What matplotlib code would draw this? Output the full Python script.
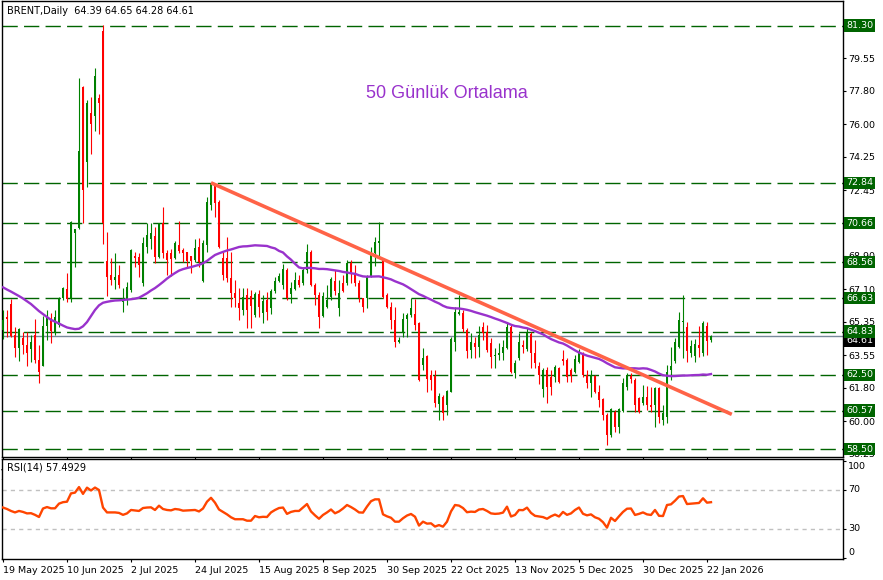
import numpy as np
import pandas as pd
import matplotlib
matplotlib.use("Agg")
import matplotlib.pyplot as plt
from matplotlib.transforms import blended_transform_factory

# ---------------- data ----------------
opens = [64.90, 65.63, 66.31, 64.64, 63.96, 64.50, 64.10, 63.87, 64.64, 63.29,
         62.97, 65.13, 65.49, 64.75, 65.18, 66.62, 67.12, 66.58, 70.12, 70.39,
         78.01, 73.97, 76.61, 76.43, 77.40, 81.01, 68.63, 67.87, 67.60, 67.87,
         66.43, 66.56, 67.06, 68.89, 68.82, 67.46, 69.40, 69.81, 69.97, 68.82,
         70.66, 69.04, 69.04, 68.77, 69.49, 69.22, 69.13, 68.89, 68.68, 69.36,
         67.55, 69.49, 71.64, 72.72, 71.82, 68.79, 68.77, 67.70, 66.89, 66.38,
         65.99, 66.79, 66.74, 65.72, 66.85, 65.84, 66.52, 66.08, 67.01, 67.57,
         67.33, 68.14, 66.85, 67.10, 67.60, 67.42, 68.14, 69.13, 67.33, 66.79,
         65.66, 66.13, 66.67, 67.57, 66.08, 67.42, 67.42, 68.54, 67.92, 67.46,
         66.62, 66.62, 67.82, 69.04, 69.61, 68.68, 66.79, 66.17, 65.45, 64.28,
         64.73, 65.49, 65.72, 65.77, 65.27, 63.02, 63.51, 62.49, 62.43, 60.92,
         61.32, 60.87, 61.59, 64.28, 65.77, 65.84, 64.91, 63.83, 64.19, 64.01,
         65.05, 64.82, 64.23, 63.51, 63.56, 63.66, 63.92, 65.09, 62.58, 63.39,
         64.10, 63.87, 64.69, 63.66, 62.97, 61.72, 62.76, 62.36, 62.36, 62.85,
         63.33, 63.29, 62.76, 62.66, 63.20, 63.66, 62.49, 62.04, 62.43, 61.59,
         61.18, 60.33, 59.26, 60.51, 59.70, 60.56, 61.86, 62.43, 62.22, 61.23,
         60.96, 61.32, 60.87, 60.87, 61.77, 60.06, 60.24, 62.76, 63.26, 63.98,
         65.36, 65.09, 63.69, 63.51, 64.10, 63.69, 65.13, 64.39]
highs = [65.98, 65.99, 66.58, 65.09, 65.02, 64.82, 64.82, 64.64, 65.49, 64.10,
         65.66, 65.99, 65.81, 65.99, 66.69, 67.23, 67.99, 70.80, 70.35, 78.46,
         78.05, 77.30, 77.47, 79.00, 77.62, 81.34, 70.20, 68.77, 69.04, 68.41,
         67.19, 67.51, 69.26, 69.13, 69.04, 69.93, 70.66, 70.66, 70.47, 70.70,
         71.55, 69.22, 69.26, 69.72, 70.78, 69.31, 69.13, 68.90, 69.80, 69.85,
         69.76, 72.09, 72.84, 72.81, 71.90, 69.10, 69.93, 69.13, 67.60, 67.16,
         67.16, 67.16, 67.05, 66.97, 67.06, 66.79, 66.97, 67.10, 67.78, 67.98,
         68.46, 68.23, 67.51, 68.05, 67.87, 68.32, 69.54, 69.22, 67.42, 66.97,
         66.97, 67.33, 67.75, 68.14, 67.60, 67.87, 68.68, 68.68, 68.41, 67.60,
         66.62, 67.87, 69.36, 69.93, 70.74, 68.77, 66.89, 66.43, 66.17, 64.55,
         65.81, 65.81, 66.62, 66.56, 65.36, 63.94, 63.56, 62.76, 62.76, 61.50,
         61.41, 61.68, 64.55, 66.17, 66.79, 65.99, 65.00, 64.73, 64.55, 65.13,
         65.36, 65.18, 64.46, 63.92, 64.19, 64.37, 65.27, 65.18, 63.29, 64.73,
         64.37, 65.00, 64.82, 64.37, 63.20, 62.85, 62.93, 62.76, 63.02, 62.93,
         63.83, 63.39, 62.85, 63.56, 63.87, 63.74, 62.76, 62.76, 62.49, 61.95,
         61.23, 60.42, 60.69, 60.60, 60.69, 62.31, 62.58, 62.58, 62.31, 61.32,
         61.95, 61.89, 61.86, 61.86, 61.86, 60.87, 63.02, 63.98, 64.46, 65.89,
         66.79, 65.36, 64.37, 64.41, 65.13, 65.41, 65.36, 64.65]
lows = [64.42, 64.55, 64.53, 63.47, 63.26, 63.62, 62.97, 63.20, 63.15, 62.07,
        62.97, 64.37, 64.23, 64.64, 65.07, 66.52, 66.43, 66.43, 68.32, 70.33,
        70.66, 72.63, 74.39, 75.64, 75.46, 69.54, 66.74, 67.33, 67.10, 67.16,
        65.89, 66.26, 66.97, 68.29, 67.75, 67.28, 69.04, 69.26, 68.50, 68.77,
        68.77, 67.87, 67.82, 68.72, 69.07, 68.59, 68.32, 67.96, 68.59, 68.32,
        67.51, 69.13, 71.37, 71.01, 69.31, 67.60, 67.51, 66.17, 66.17, 65.45,
        65.72, 65.00, 65.00, 65.63, 65.63, 65.27, 65.45, 65.77, 66.89, 67.51,
        67.10, 66.52, 66.35, 67.06, 67.24, 67.33, 67.96, 67.28, 66.26, 65.03,
        65.63, 66.08, 66.52, 66.79, 65.66, 66.97, 67.33, 67.46, 67.28, 66.43,
        65.89, 66.08, 67.78, 68.36, 68.77, 66.62, 66.08, 64.95, 63.98, 64.19,
        64.55, 64.55, 65.63, 64.91, 62.15, 62.77, 61.59, 61.68, 60.78, 60.06,
        60.06, 60.33, 61.59, 63.80, 65.72, 64.82, 63.39, 63.39, 63.39, 63.47,
        64.37, 63.74, 62.85, 62.85, 63.29, 63.29, 63.87, 62.58, 62.31, 63.29,
        63.66, 63.80, 62.85, 62.85, 62.00, 61.32, 60.96, 61.41, 62.12, 62.04,
        63.02, 62.12, 62.12, 62.58, 63.12, 62.36, 61.77, 61.32, 61.50, 60.78,
        60.06, 58.72, 59.17, 59.43, 59.35, 60.51, 61.68, 62.04, 60.51, 60.46,
        60.87, 60.60, 60.51, 59.70, 59.89, 59.80, 59.89, 62.22, 63.12, 63.92,
        63.39, 63.20, 63.47, 63.20, 63.47, 63.51, 63.56, 64.28]
closes = [65.45, 65.52, 64.59, 63.96, 64.95, 64.10, 63.69, 64.28, 63.29, 62.66,
          65.13, 65.59, 64.86, 65.61, 66.62, 67.16, 66.58, 70.75, 70.33, 74.55,
          72.45, 77.15, 76.00, 78.59, 77.15, 70.66, 67.78, 67.60, 67.78, 67.33,
          66.62, 67.24, 69.22, 68.79, 68.41, 69.61, 70.03, 70.12, 68.82, 70.66,
          69.07, 68.68, 68.72, 69.61, 69.18, 69.04, 68.65, 68.65, 69.31, 68.59,
          69.61, 71.82, 72.77, 71.73, 69.36, 67.87, 67.70, 66.89, 66.62, 66.08,
          66.70, 65.99, 66.20, 66.85, 66.13, 66.49, 65.89, 67.01, 67.57, 67.82,
          68.18, 66.62, 67.16, 67.60, 67.33, 68.14, 69.13, 67.33, 66.79, 65.59,
          66.74, 66.52, 67.64, 67.03, 66.92, 67.03, 68.54, 67.92, 67.46, 66.62,
          66.17, 67.82, 69.04, 69.67, 69.69, 66.67, 66.13, 65.45, 64.28, 64.37,
          65.49, 65.72, 66.08, 65.18, 62.22, 63.40, 62.25, 62.22, 61.00, 61.36,
          60.42, 61.64, 64.41, 65.89, 65.89, 64.95, 63.80, 64.28, 64.01, 64.64,
          64.76, 63.83, 63.47, 63.56, 63.69, 63.98, 65.05, 62.66, 63.15, 64.28,
          64.01, 64.76, 63.66, 63.12, 62.49, 62.76, 61.86, 61.86, 62.93, 62.12,
          63.26, 62.36, 62.43, 63.33, 63.74, 62.49, 62.04, 62.49, 61.59, 61.14,
          60.33, 59.26, 60.64, 59.70, 60.64, 62.07, 62.49, 62.25, 60.87, 60.51,
          61.32, 60.87, 60.78, 61.80, 60.24, 60.42, 62.66, 62.97, 64.28, 65.45,
          65.41, 63.80, 64.05, 64.14, 63.92, 65.27, 64.34, 64.61]

# 50-day moving average values for the first 49 bars (read from the picture;
# earlier closes are not shown on the chart). The rest is the SMA(50) of closes.
ma50_head = [67.21, 67.09, 66.98, 66.86, 66.74, 66.61, 66.46, 66.31, 66.12, 65.93,
             65.77, 65.61, 65.46, 65.36, 65.26, 65.15, 65.05, 65.00, 64.96, 64.98,
             65.11, 65.34, 65.66, 65.99, 66.24, 66.38, 66.43, 66.47, 66.50, 66.51,
             66.53, 66.55, 66.57, 66.60, 66.65, 66.77, 66.89, 67.04, 67.17, 67.33,
             67.50, 67.68, 67.84, 67.98, 68.11, 68.19, 68.25, 68.30, 68.36]

rsi14 = [52.0, 50.5, 48.5, 47.0, 48.5, 47.5, 46.0, 46.2, 44.5, 42.3,
         51.0, 52.5, 51.2, 51.2, 56.0, 57.5, 58.0, 66.5, 67.3, 73.0,
         66.0, 72.4, 69.5, 72.5, 70.0, 52.0, 47.0, 47.0, 47.0, 46.5,
         44.5, 46.0, 49.5, 49.0, 48.5, 51.5, 52.0, 52.2, 49.5, 53.9,
         50.5, 49.5, 49.1, 50.5, 50.0, 48.8, 49.0, 49.3, 49.5, 48.0,
         51.0, 58.0, 62.0, 57.0, 50.0, 47.5, 45.0, 42.0, 40.0, 40.0,
         40.0, 38.5, 38.5, 43.3, 42.0, 42.5, 42.3, 47.0, 49.5, 51.5,
         52.0, 45.5, 47.5, 48.5, 48.5, 52.0, 55.6, 48.0, 44.0, 40.5,
         44.4, 47.0, 50.0, 46.1, 48.0, 51.0, 54.6, 52.5, 50.0, 47.0,
         46.8, 53.0, 58.5, 60.4, 60.4, 45.0, 43.0, 41.5, 37.5, 37.5,
         41.0, 43.8, 45.4, 42.6, 33.5, 37.5, 35.5, 35.8, 32.5, 34.0,
         32.4, 37.5, 48.0, 54.6, 54.0, 51.5, 47.2, 47.8, 47.5, 50.0,
         50.5, 48.5, 46.0, 45.5, 45.8, 46.8, 52.9, 42.8, 44.4, 49.5,
         49.3, 51.9, 46.5, 43.5, 42.8, 42.2, 40.5, 43.0, 44.8, 42.8,
         47.5, 44.5, 46.0, 49.5, 52.0, 45.6, 44.0, 45.0, 42.0, 40.5,
         37.0, 31.4, 41.5, 38.2, 43.0, 47.5, 50.8, 51.0, 44.4, 45.5,
         47.0, 45.0, 44.4, 49.5, 43.5, 43.3, 54.6, 55.3, 59.0, 63.3,
         63.8, 55.6, 56.0, 56.3, 56.7, 61.5, 57.0, 57.49]

level_prices = [81.30, 72.84, 70.66, 68.56, 66.63, 64.83, 62.50, 60.57, 58.50]
price_ticks = [79.55, 77.80, 76.00, 74.25, 72.45, 70.70, 68.90, 67.10, 65.35,
               63.55, 61.80, 60.00, 58.25]
last_price = 64.61
trend_bars = [52.0, 182.2]
trend_prices = [72.84, 60.37]
date_tick_bars = [0, 16, 32, 48, 64, 80, 96, 112, 128, 144, 160, 176]
date_labels = ["19 May 2025", "10 Jun 2025", "2 Jul 2025", "24 Jul 2025",
               "15 Aug 2025", "8 Sep 2025", "30 Sep 2025", "22 Oct 2025",
               "13 Nov 2025", "5 Dec 2025", "30 Dec 2025", "22 Jan 2026"]
rsi_levels = [70, 30]
title_text = "BRENT,Daily  64.39 64.65 64.28 64.61"
rsi_title = "RSI(14) 57.4929"
ma_caption = "50 Günlük Ortalama"

# ---------------- figure ----------------
W, H = 883, 580
fig = plt.figure(figsize=(W / 100, H / 100), dpi=100)
fig.patch.set_facecolor("white")
plt.rcParams["font.family"] = ["DejaVu Sans"]


def rect(x0, y0, x1, y1):
    return [x0 / W, 1 - y1 / H, (x1 - x0) / W, (y1 - y0) / H]


ax = fig.add_axes(rect(2, 1, 843, 456.5))
axr = fig.add_axes(rect(2, 459, 843, 559.3), sharex=ax)

n = len(closes)
x = np.arange(n)
o = np.array(opens); h = np.array(highs); l = np.array(lows); c = np.array(closes)
up = c >= o
GREEN = "#008000"
RED = "#FF0000"
cols = np.where(up, GREEN, RED)

# level lines
for lv in level_prices:
    ax.axhline(lv, color="#006400", lw=1.0, ls=(0, (11, 4.5)), zorder=1)
# current price line
ax.axhline(last_price, color="#778899", lw=1.0, zorder=1.5)

# candles
ax.vlines(x, l, h, colors=cols, lw=0.8, zorder=3)
body_lo = np.minimum(o, c)
body_h = np.maximum(np.abs(c - o), 0.05)
ax.bar(x, body_h, bottom=body_lo, width=0.68, color=cols, lw=0, zorder=3)

# moving average
ma = pd.Series(closes).rolling(50).mean().to_numpy()
ma[:49] = ma50_head
ax.plot(x, ma, color="#9932CC", lw=1.7, zorder=4)

# trend line
ax.plot(trend_bars, trend_prices, color="#FF6347", lw=2.6, zorder=5,
        solid_capstyle="butt")

ax.set_xlim(-0.25, 210)
ax.set_ylim(58.10, 82.63)
ax.set_xticks([])
ax.yaxis.tick_right()
ax.set_yticks(price_ticks)
ax.set_yticklabels([f"{v:.2f}" for v in price_ticks])
ax.tick_params(axis="y", length=2.5, width=0.8, pad=1.5, labelsize=6.8,
               colors="black")
for s in ax.spines.values():
    s.set_color("black"); s.set_linewidth(1.0)

tr = blended_transform_factory(ax.transAxes, ax.transData)
# black current price box (partly hidden)
ax.text(1.0035, last_price - 0.28, f"{last_price:.2f}", transform=tr,
        fontsize=6.8, color="white", va="center", ha="left", clip_on=False,
        zorder=9, bbox=dict(boxstyle="square,pad=0.18", fc="black", ec="none"))
for lv in level_prices:
    ax.text(1.0035, lv, f"{lv:.2f}", transform=tr, fontsize=6.8, color="white",
            va="center", ha="left", clip_on=False, zorder=10,
            bbox=dict(boxstyle="square,pad=0.18", fc="#006400", ec="none"))

ax.text(5 / 841, 1 - 10 / 455.5, title_text, transform=ax.transAxes,
        fontsize=7, va="center", ha="left", color="black")
ax.text(447 / 841 - 2 / 841, 1 - 92 / 455.5, ma_caption, transform=ax.transAxes,
        fontsize=13, va="center", ha="center", color="#9932CC",
        family=["Liberation Sans", "DejaVu Sans"])

# ---------------- RSI panel ----------------
for lv in rsi_levels:
    axr.axhline(lv, color="#C0C0C0", lw=1.0, ls=(0, (3, 3)), zorder=1)
axr.plot(x, rsi14, color="#FF4500", lw=1.7, zorder=3)
axr.set_ylim(-1.1, 101.8)
axr.yaxis.tick_right()
axr.set_yticks([100, 70, 30, 0])
axr.set_yticklabels([])
axr.tick_params(axis="y", length=2.5, width=0.8)
trr = blended_transform_factory(axr.transAxes, axr.transData)
for v, yv in zip(["100", "70", "30", "0"], [93.9, 70, 30, 6.1]):
    axr.text(1.006, yv, v, transform=trr, fontsize=6.8, va="center",
             ha="left", clip_on=False)
axr.text(5 / 841, 1 - 9 / 100.3, rsi_title, transform=axr.transAxes,
         fontsize=7, va="center", ha="left")
axr.set_xticks(date_tick_bars)
axr.set_xticklabels(date_labels)
for lbl in axr.get_xticklabels():
    lbl.set_ha("left")
axr.tick_params(axis="x", length=2.5, width=0.8, pad=2, labelsize=6.8)
for s in axr.spines.values():
    s.set_color("black"); s.set_linewidth(1.0)

fig.savefig("out.png", dpi=100, facecolor="white")
